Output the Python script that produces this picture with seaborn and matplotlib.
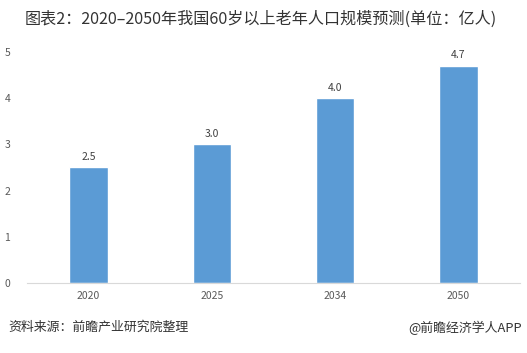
import matplotlib.pyplot as plt
import seaborn as sns
import pandas as pd

# data
years = ['2020', '2025', '2034', '2050']
population = [2.5, 3.0, 4.0, 4.7]
value_labels = ['2.5', '3.0', '4.0', '4.7']

sns.set_style('white')
plt.rcParams['font.family'] = ['Noto Sans CJK SC', 'DejaVu Sans']

df = pd.DataFrame({'year': years, 'pop': population})

fig = plt.figure(figsize=(5.27, 3.53), dpi=100)
ax = fig.add_axes([0.051, 0.198, 0.936, 0.655])

sns.barplot(data=df, x='year', y='pop', color='#5B9BD5', saturation=1,
            width=0.31, ax=ax)

for i, lab in enumerate(value_labels):
    ax.text(i, population[i] + 0.12, lab, ha='center', va='bottom',
            fontsize=7.5, color='#404040')

ax.set_ylim(0, 5)
ax.set_yticks([0, 1, 2, 3, 4, 5])
ax.set_xlabel('')
ax.set_ylabel('')
ax.tick_params(axis='both', length=0, labelsize=7.5, colors='#595959')
ax.tick_params(axis='x', pad=6)
ax.tick_params(axis='y', pad=12)
for s in ['top', 'right', 'left']:
    ax.spines[s].set_visible(False)
ax.spines['bottom'].set_color('#D9D9D9')
ax.spines['bottom'].set_linewidth(0.8)

fig.text(0.047, 0.945, '图表2：2020–2050年我国60岁以上老年人口规模预测(单位：亿人)',
         fontsize=11.6, color='#333333', va='center')
fig.text(0.015, 0.072, '资料来源：前瞻产业研究院整理', fontsize=9.3,
         color='#333333', va='center')
fig.text(0.99, 0.072, '@前瞻经济学人APP', fontsize=9.3, color='#333333',
         va='center', ha='right')

fig.savefig('out.png', dpi=100)
